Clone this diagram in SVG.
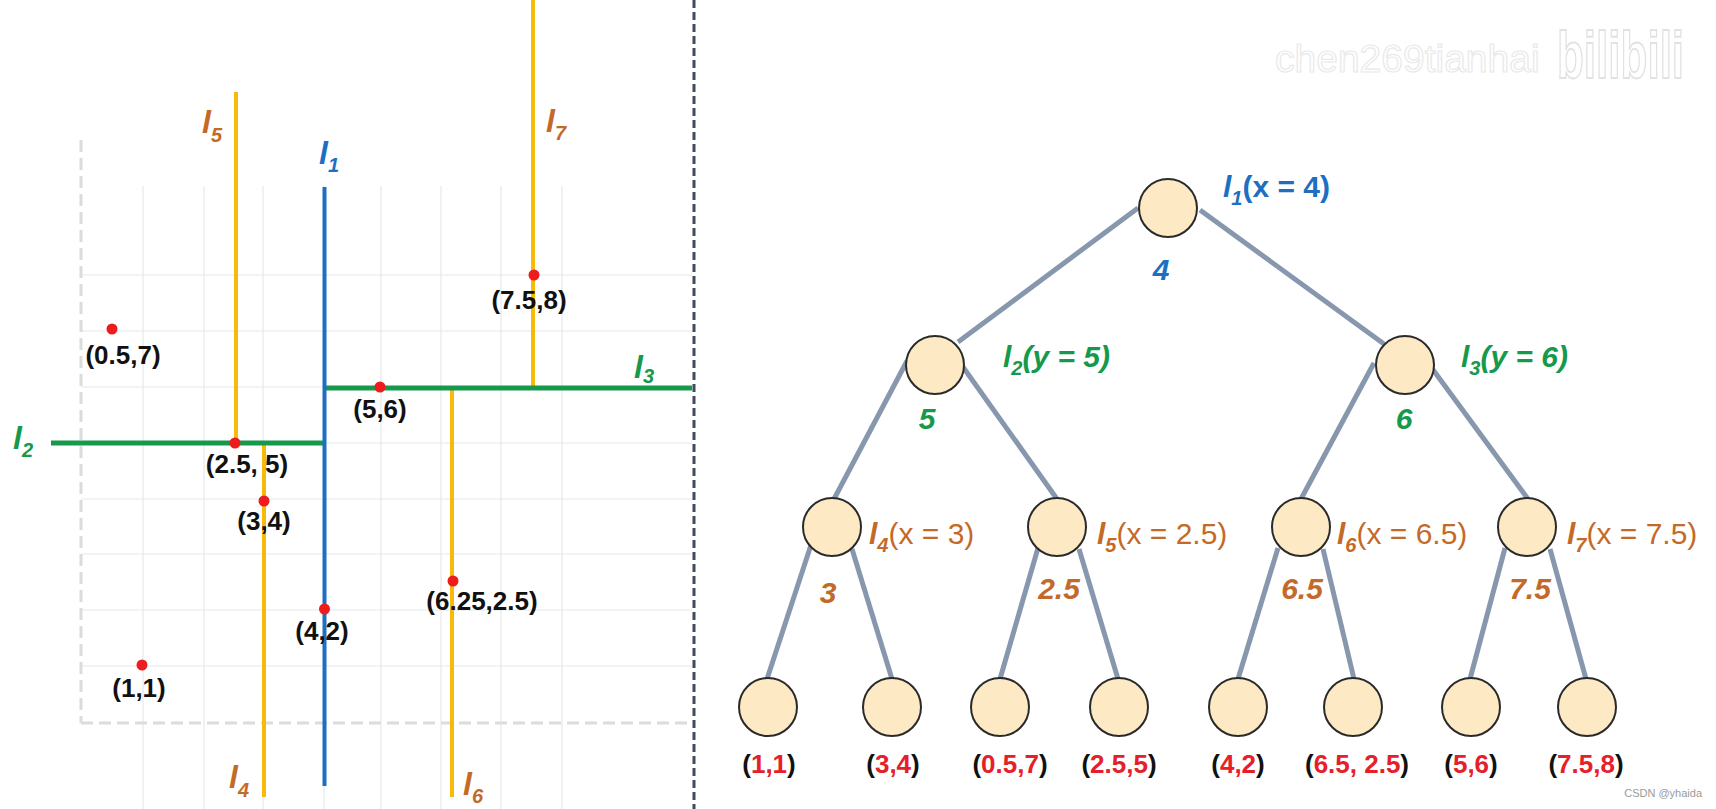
<svg xmlns="http://www.w3.org/2000/svg" width="1716" height="809" viewBox="0 0 1716 809">
<style>
.grid{stroke:#e6e8ec;stroke-width:1.2;fill:none}
.gdash{stroke:#dcdcdc;stroke-width:3;stroke-dasharray:12 6;fill:none}
.div{stroke:#3f4b5e;stroke-width:3;stroke-dasharray:8 4;fill:none}
.yl{stroke:#f7b90a;stroke-width:4;fill:none}
.bl{stroke:#1d6fc2;stroke-width:4;fill:none}
.gl{stroke:#17994c;stroke-width:5;fill:none}
.dot{fill:#ee1c1c}
.pt{font-family:"Liberation Sans",Arial,sans-serif;font-weight:bold;font-size:26px;fill:#111;text-anchor:middle}
.lab{font-family:"Liberation Sans",Arial,sans-serif;font-weight:bold;font-style:italic;font-size:32px}
.sub{font-size:20px}
.brown{fill:#c46a28}
.blue{fill:#1d6fc2}
.green{fill:#17994c}
.edge{stroke:#8797ad;stroke-width:5;fill:none}
.node{fill:#fde9c4;stroke:#2a2a2a;stroke-width:2}
.tl{font-family:"Liberation Sans",Arial,sans-serif;font-size:30px}
.tb{font-weight:bold}
.ti{font-style:italic}
.val{font-family:"Liberation Sans",Arial,sans-serif;font-weight:bold;font-style:italic;font-size:30px;text-anchor:middle}
.leaf{font-family:"Liberation Sans",Arial,sans-serif;font-weight:bold;font-size:26px;fill:#111;text-anchor:middle}
.red{fill:#e5202a}
</style>
<rect width="1716" height="809" fill="#ffffff"/>

<!-- watermark -->
<g id="watermark">
<text x="1275" y="72" font-family="Liberation Sans, Arial, sans-serif" font-size="39" fill="#ffffff" stroke="#e9e9e9" stroke-width="1.2">chen269tianhai</text>
<text transform="translate(1557,78) scale(1,1.5)" x="0" y="0" font-family="Liberation Sans, Arial, sans-serif" font-weight="bold" font-size="44" fill="#ffffff" stroke="#e2e2e2" stroke-width="1.2">bilibili</text>
<text x="1702" y="797" font-family="Liberation Sans, Arial, sans-serif" font-size="11" fill="#9a9a9a" text-anchor="end">CSDN @yhaida</text>
</g>

<!-- left panel: grid -->
<g id="grid">
<line class="grid" x1="143" y1="186" x2="143" y2="809"/>
<line class="grid" x1="204" y1="186" x2="204" y2="809"/>
<line class="grid" x1="263" y1="186" x2="263" y2="809"/>
<line class="grid" x1="324" y1="186" x2="324" y2="809"/>
<line class="grid" x1="381" y1="186" x2="381" y2="809"/>
<line class="grid" x1="441" y1="186" x2="441" y2="809"/>
<line class="grid" x1="501" y1="186" x2="501" y2="809"/>
<line class="grid" x1="562" y1="186" x2="562" y2="809"/>
<line class="grid" x1="81" y1="275" x2="692" y2="275"/>
<line class="grid" x1="81" y1="331" x2="692" y2="331"/>
<line class="grid" x1="81" y1="387" x2="692" y2="387"/>
<line class="grid" x1="81" y1="443" x2="692" y2="443"/>
<line class="grid" x1="81" y1="499" x2="692" y2="499"/>
<line class="grid" x1="81" y1="554" x2="692" y2="554"/>
<line class="grid" x1="81" y1="610" x2="692" y2="610"/>
<line class="grid" x1="81" y1="666" x2="692" y2="666"/>
<line class="gdash" x1="81" y1="140" x2="81" y2="723"/>
<line class="gdash" x1="81" y1="723" x2="692" y2="723"/>
</g>

<line id="divider" class="div" x1="694" y1="0" x2="694" y2="809"/>

<!-- splitting lines -->
<g id="split-lines">
<line class="yl" x1="236" y1="92" x2="236" y2="443"/>
<line class="yl" x1="264" y1="443" x2="264" y2="797"/>
<line class="yl" x1="452" y1="388" x2="452" y2="797"/>
<line class="yl" x1="533" y1="0" x2="533" y2="388"/>
<line class="gl" x1="51" y1="443" x2="324.5" y2="443"/>
<line class="gl" x1="324.5" y1="388" x2="692" y2="388"/>
<line class="bl" x1="324.5" y1="187" x2="324.5" y2="786"/>
</g>

<g id="line-labels">
<text class="lab brown" x="202" y="133">l<tspan class="sub" dy="9">5</tspan></text>
<text class="lab blue" x="319" y="164">l<tspan class="sub" dy="8">1</tspan></text>
<text class="lab brown" x="546" y="132">l<tspan class="sub" dy="8">7</tspan></text>
<text class="lab green" x="634" y="378">l<tspan class="sub" dy="5">3</tspan></text>
<text class="lab green" x="13" y="449">l<tspan class="sub" dy="8">2</tspan></text>
<text class="lab brown" x="229" y="788">l<tspan class="sub" dy="9">4</tspan></text>
<text class="lab brown" x="463" y="795">l<tspan class="sub" dy="8">6</tspan></text>
</g>

<g id="points">
<circle class="dot" cx="534" cy="275" r="5.5"/>
<circle class="dot" cx="112" cy="329" r="5.5"/>
<circle class="dot" cx="380" cy="387" r="5.5"/>
<circle class="dot" cx="235" cy="443" r="5.5"/>
<circle class="dot" cx="264" cy="501" r="5.5"/>
<circle class="dot" cx="453" cy="581" r="5.5"/>
<circle class="dot" cx="324.5" cy="609" r="5.5"/>
<circle class="dot" cx="142" cy="665" r="5.5"/>
<text class="pt" x="529" y="309">(7.5,8)</text>
<text class="pt" x="123" y="364">(0.5,7)</text>
<text class="pt" x="380" y="418">(5,6)</text>
<text class="pt" x="247" y="473">(2.5, 5)</text>
<text class="pt" x="264" y="530">(3,4)</text>
<text class="pt" x="482" y="610">(6.25,2.5)</text>
<text class="pt" x="322" y="640">(4,2)</text>
<text class="pt" x="139" y="697">(1,1)</text>
</g>

<!-- right panel: tree -->
<g id="connectors">
<line class="edge" x1="1138" y1="208" x2="958" y2="342"/>
<line class="edge" x1="1200" y1="210" x2="1384" y2="344"/>
<line class="edge" x1="907" y1="361" x2="834" y2="499"/>
<line class="edge" x1="963" y1="367" x2="1057" y2="499"/>
<line class="edge" x1="1374" y1="363" x2="1301" y2="499"/>
<line class="edge" x1="1431" y1="367" x2="1528" y2="499"/>
<line class="edge" x1="811" y1="545" x2="767" y2="679"/>
<line class="edge" x1="852" y1="549" x2="892" y2="679"/>
<line class="edge" x1="1038" y1="548" x2="1000" y2="679"/>
<line class="edge" x1="1079" y1="549" x2="1118" y2="679"/>
<line class="edge" x1="1278" y1="548" x2="1238" y2="679"/>
<line class="edge" x1="1323" y1="549" x2="1354" y2="679"/>
<line class="edge" x1="1505" y1="548" x2="1470" y2="679"/>
<line class="edge" x1="1550" y1="549" x2="1586" y2="679"/>
</g>

<g id="n-root">
<circle class="node" cx="1168" cy="208" r="29"/>
<text class="tl tb blue" x="1223" y="197"><tspan class="ti">l</tspan><tspan class="sub ti" dy="8">1</tspan><tspan dy="-8">(x = 4)</tspan></text>
<text class="val blue" x="1161" y="280">4</text>
</g>
<g id="n-l2">
<circle class="node" cx="935" cy="365" r="29"/>
<text class="tl tb ti green" x="1003" y="367">l<tspan class="sub" dy="8">2</tspan><tspan dy="-8">(y = 5)</tspan></text>
<text class="val green" x="927" y="429">5</text>
</g>
<g id="n-l3">
<circle class="node" cx="1405" cy="365" r="29"/>
<text class="tl tb ti green" x="1461" y="367">l<tspan class="sub" dy="8">3</tspan><tspan dy="-8">(y = 6)</tspan></text>
<text class="val green" x="1404" y="429">6</text>
</g>
<g id="n-l4">
<circle class="node" cx="832" cy="527" r="29"/>
<text class="tl brown" x="869" y="544"><tspan class="tb ti">l</tspan><tspan class="sub tb ti" dy="8">4</tspan><tspan dy="-8">(x = 3)</tspan></text>
<text class="val brown" x="828" y="603">3</text>
</g>
<g id="n-l5">
<circle class="node" cx="1057" cy="527" r="29"/>
<text class="tl brown" x="1097" y="544"><tspan class="tb ti">l</tspan><tspan class="sub tb ti" dy="8">5</tspan><tspan dy="-8">(x = 2.5)</tspan></text>
<text class="val brown" x="1059" y="599">2.5</text>
</g>
<g id="n-l6">
<circle class="node" cx="1301" cy="527" r="29"/>
<text class="tl brown" x="1337" y="544"><tspan class="tb ti">l</tspan><tspan class="sub tb ti" dy="8">6</tspan><tspan dy="-8">(x = 6.5)</tspan></text>
<text class="val brown" x="1302" y="599">6.5</text>
</g>
<g id="n-l7">
<circle class="node" cx="1527" cy="527" r="29"/>
<text class="tl brown" x="1567" y="544"><tspan class="tb ti">l</tspan><tspan class="sub tb ti" dy="8">7</tspan><tspan dy="-8">(x = 7.5)</tspan></text>
<text class="val brown" x="1530" y="599">7.5</text>
</g>

<g id="leaf-1"><circle class="node" cx="768" cy="707" r="29"/><text class="leaf" x="769" y="773">(<tspan class="red">1,1</tspan>)</text></g>
<g id="leaf-2"><circle class="node" cx="892" cy="707" r="29"/><text class="leaf" x="893" y="773">(<tspan class="red">3,4</tspan>)</text></g>
<g id="leaf-3"><circle class="node" cx="1000" cy="707" r="29"/><text class="leaf" x="1010" y="773">(<tspan class="red">0.5,7</tspan>)</text></g>
<g id="leaf-4"><circle class="node" cx="1119" cy="707" r="29"/><text class="leaf" x="1119" y="773">(<tspan class="red">2.5,5</tspan>)</text></g>
<g id="leaf-5"><circle class="node" cx="1238" cy="707" r="29"/><text class="leaf" x="1238" y="773">(<tspan class="red">4,2</tspan>)</text></g>
<g id="leaf-6"><circle class="node" cx="1353" cy="707" r="29"/><text class="leaf" x="1357" y="773">(<tspan class="red">6.5, 2.5</tspan>)</text></g>
<g id="leaf-7"><circle class="node" cx="1471" cy="707" r="29"/><text class="leaf" x="1471" y="773">(<tspan class="red">5,6</tspan>)</text></g>
<g id="leaf-8"><circle class="node" cx="1587" cy="707" r="29"/><text class="leaf" x="1586" y="773">(<tspan class="red">7.5,8</tspan>)</text></g>
</svg>
